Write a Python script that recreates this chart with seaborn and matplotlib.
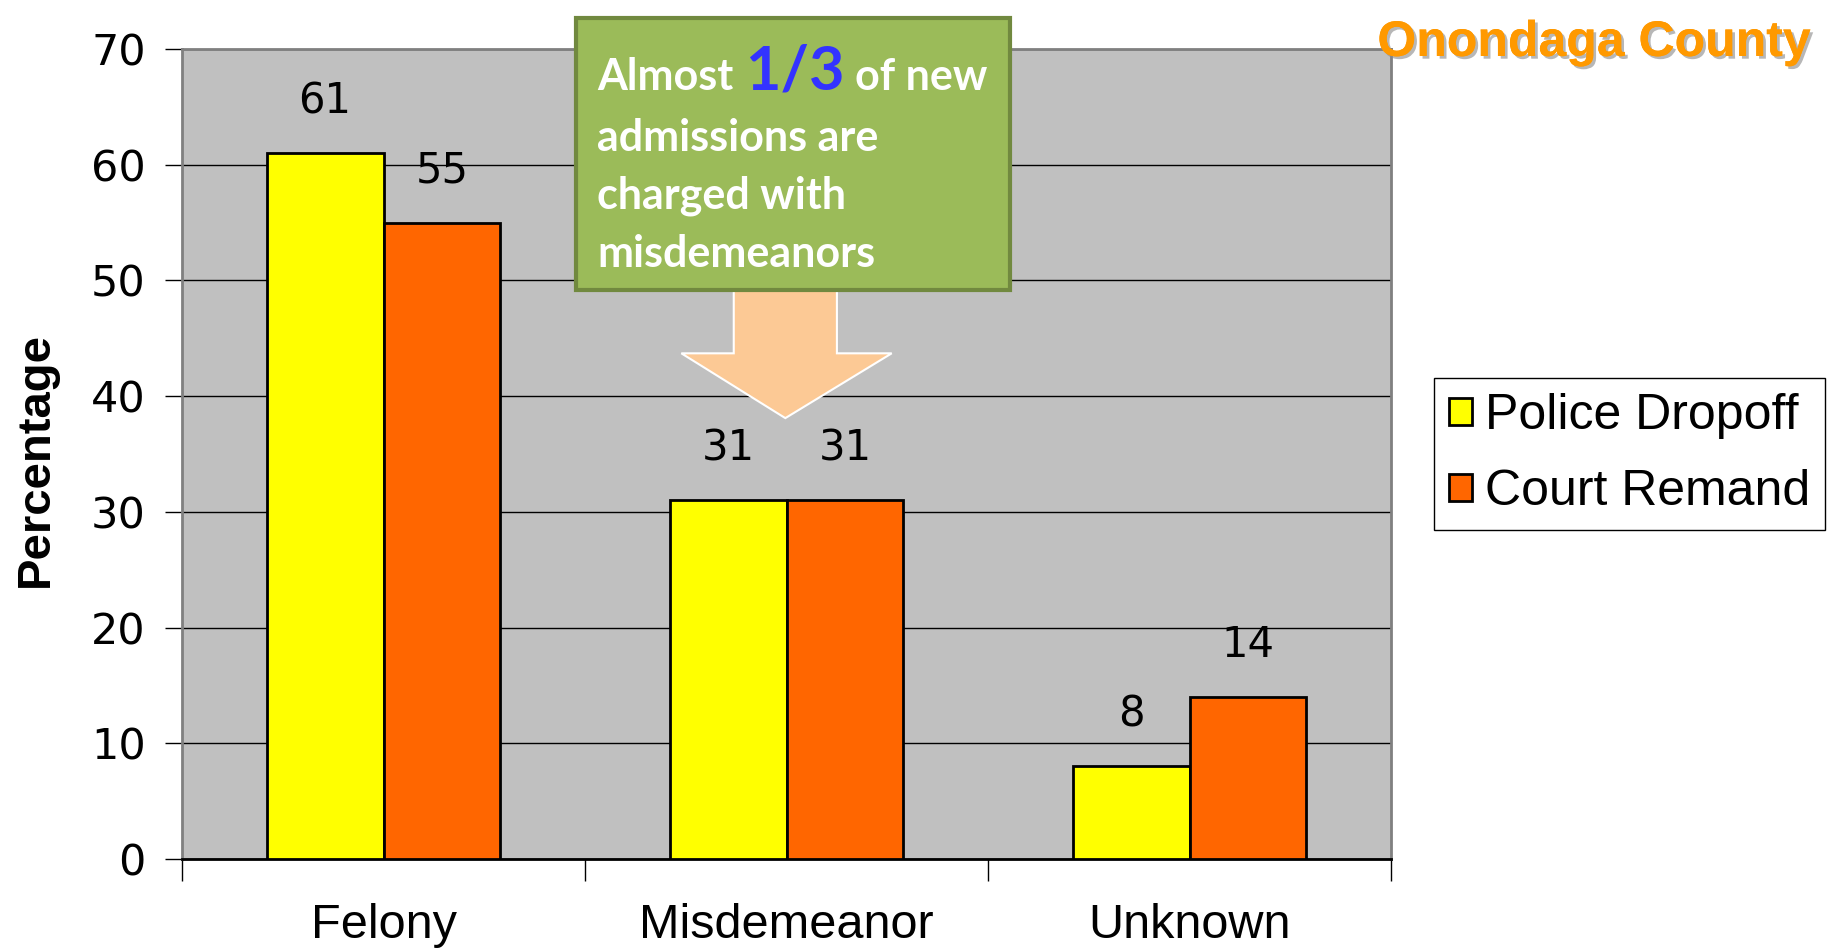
import matplotlib
matplotlib.use("Agg")
import matplotlib.pyplot as plt
import matplotlib.patheffects as pe
from matplotlib.patches import Polygon, Rectangle
import seaborn as sns
import pandas as pd

# chart data
categories = ["Felony", "Misdemeanor", "Unknown"]
police_dropoff = [61, 31, 8]
court_remand = [55, 31, 14]
series_names = ["Police Dropoff", "Court Remand"]
y_ticks = [0, 10, 20, 30, 40, 50, 60, 70]

df = pd.DataFrame({
    "category": categories * 2,
    "pct": police_dropoff + court_remand,
    "source": [series_names[0]] * 3 + [series_names[1]] * 3,
})

sns.set_style("white")
plt.rcParams["font.family"] = ["Liberation Sans", "DejaVu Sans"]
plt.rcParams["text.color"] = "black"
plt.rcParams["xtick.color"] = "black"
plt.rcParams["ytick.color"] = "black"

fig = plt.figure(figsize=(18.33, 9.49), dpi=100)
ax = fig.add_axes([0.0993, 0.0948, 0.6596, 0.8536])

sns.barplot(data=df, x="category", y="pct", hue="source", order=categories,
            hue_order=series_names, palette=["#FFFF00", "#FF6600"], saturation=1,
            width=0.58, edgecolor="black", linewidth=2, ax=ax, zorder=3)

ax.set_facecolor("#C0C0C0")
ax.set_ylim(0, 70)
ax.set_xlim(-0.5, 2.5)
ax.set_yticks(y_ticks)
ax.yaxis.grid(True, color="black", linewidth=1)
ax.set_axisbelow(True)
for side, sp in ax.spines.items():
    sp.set_visible(True)
    sp.set_color("#808080")
    sp.set_linewidth(2)
ax.spines["bottom"].set_color("black")

ax.tick_params(axis="y", labelsize=31, length=12, width=1, pad=14, direction="out", left=True)
for lab in ax.get_yticklabels():
    lab.set_family("DejaVu Sans")
# category boundaries as major ticks, labels on minor ticks at centers
ax.set_xticks([-0.5, 0.5, 1.5, 2.5], labels=[""] * 4)
ax.set_xticks([0, 1, 2], labels=categories, minor=True)
ax.tick_params(axis="x", which="major", length=16, width=1, direction="out", bottom=True)
ax.tick_params(axis="x", which="minor", length=0, labelsize=35, pad=32)
ax.set_xlabel("")
ax.set_ylabel("")

for cont in ax.containers:
    ax.bar_label(cont, labels=[f"{v:.0f}" for v in cont.datavalues], padding=22,
                 fontsize=30, family="DejaVu Sans")

leg = ax.legend(loc="center left", bbox_to_anchor=(1.0356, 0.5), fontsize=36,
                frameon=True, fancybox=False, edgecolor="black", framealpha=1,
                handlelength=0.46, handleheight=0.46, handletextpad=0.25,
                labelspacing=0.6, borderpad=0.3, borderaxespad=0)
leg.get_frame().set_linewidth(1)

fig.text(0.0196, 0.516, "Percentage", rotation=90, fontsize=34, fontweight="bold",
         family=["Liberation Sans Narrow", "Liberation Sans"], ha="center", va="center")

fig.text(0.988, 0.979, "Onondaga County", ha="right", va="top", fontsize=36,
         fontweight="bold", color="#FF9900",
         path_effects=[pe.withSimplePatchShadow(offset=(2, -2), shadow_rgbFace="#888888", alpha=0.6), pe.Normal()])

# callout arrow and box
arrow = Polygon([(0.869, 49.2), (1.125, 49.2), (1.125, 43.7), (1.261, 43.7),
                 (0.997, 38.1), (0.739, 43.7), (0.869, 43.7)],
                closed=True, facecolor="#FCC995", edgecolor="white", linewidth=1.5,
                zorder=5, clip_on=False)
ax.add_patch(arrow)
box = Rectangle((0.478, 49.2), 1.076, 23.5, facecolor="#9BBB59", edgecolor="#71893F",
                linewidth=3, zorder=6, clip_on=False)
ax.add_patch(box)

txt_font = ["Lato", "DejaVu Sans"]
kw = dict(fontsize=31, fontweight="bold", color="white", family=txt_font, va="baseline")
W, H = 1833, 949
renderer = fig.canvas.get_renderer()
x0 = 597
t1 = fig.text(x0 / W, 1 - 90 / H, "Almost", **kw)
x1 = t1.get_window_extent(renderer).x1 + 12
t2 = fig.text(x1 / W, 1 - 90 / H, "1/3", fontsize=44, fontweight="bold", color="#3333FF",
              family=txt_font, va="baseline")
x2 = t2.get_window_extent(renderer).x1 + 10
fig.text(x2 / W, 1 - 90 / H, "of new", **kw)
fig.text(x0 / W, 1 - 151 / H, "admissions are", **kw)
fig.text(x0 / W, 1 - 209 / H, "charged with", **kw)
fig.text(x0 / W, 1 - 267 / H, "misdemeanors", **kw)

fig.savefig("out.png", dpi=100)
